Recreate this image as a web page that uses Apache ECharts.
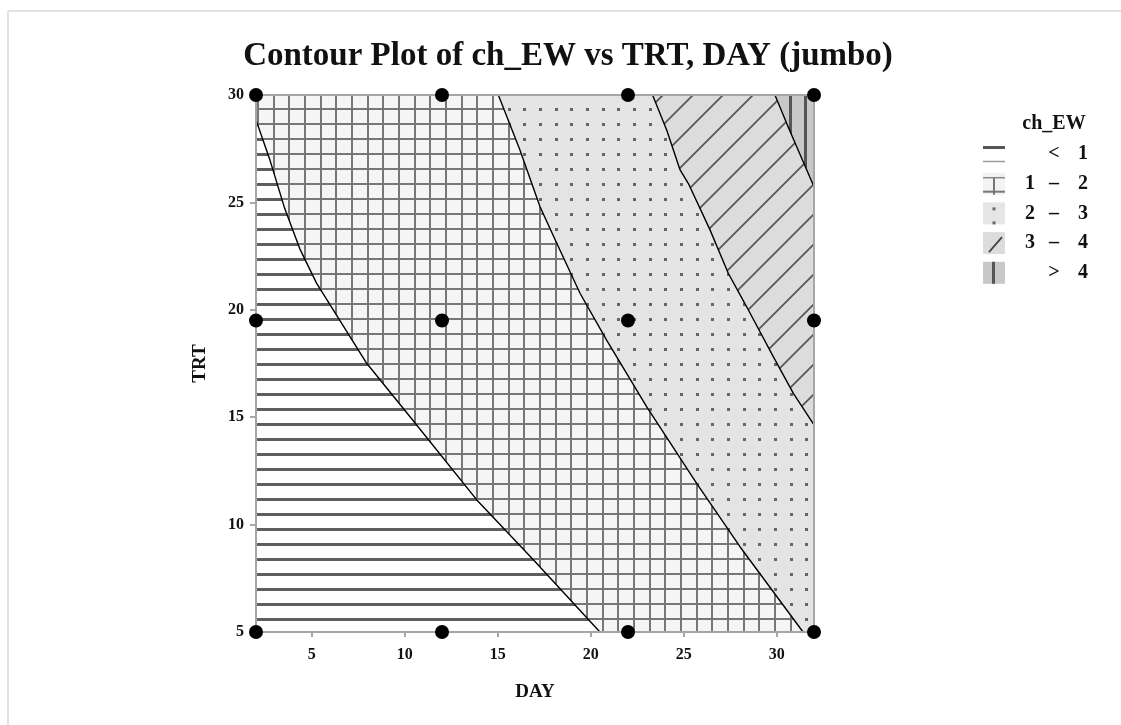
<!DOCTYPE html>
<html>
<head>
<meta charset="utf-8">
<title>Contour Plot of ch_EW vs TRT, DAY (jumbo)</title>
<script src="https://cdn.jsdelivr.net/npm/echarts@6/dist/echarts.min.js"></script>
<style>
  html, body { margin: 0; padding: 0; background: #ffffff; }
  #chart { width: 1121px; height: 725px; }
</style>
</head>
<body>
<div id="chart"></div>
<script>
// Contour boundaries of ch_EW over the (DAY, TRT) plane, traced edge to edge as [DAY, TRT]
const contour1 = [[2, 28.84], [2.75, 26.97], [3.55, 24.70], [4.35, 22.85], [5.26, 21.23], [6.38, 19.68], [7.95, 17.51], [10.28, 15.02], [13.87, 11.15], [16.91, 8.36], [20.49, 5]];
const contour2 = [[15.03, 30], [16.19, 27.44], [17.27, 24.80], [18.17, 23.10], [19.42, 20.77], [20.85, 18.59], [23.0, 15.49], [25.69, 11.92], [28.02, 8.97], [31.41, 5]];
const contour3 = [[23.32, 30], [24.08, 28.37], [24.80, 26.51], [25.24, 25.89], [26.41, 23.72], [27.39, 21.70], [28.38, 20.14], [29.81, 17.82], [30.89, 16.11], [32, 14.64]];
const contour4 = [[29.90, 30], [30.53, 28.68], [31.07, 27.59], [32, 25.73]];

// ch_EW level boundaries (legend bands)
const contourLevels = [1, 2, 3, 4];

// Design points (DAY, TRT)
const designPoints = [
  [2, 5], [12, 5], [22, 5], [32, 5],
  [2, 19.5], [12, 19.5], [22, 19.5], [32, 19.5],
  [2, 30], [12, 30], [22, 30], [32, 30]
];

// Axis ranges and tick labels
const dayRange = [2, 32];
const trtRange = [5, 30];
const dayTicks = [5, 10, 15, 20, 25, 30];
const trtTicks = [5, 10, 15, 20, 25, 30];

const SERIF = '"Liberation Serif", "Times New Roman", "DejaVu Serif", serif';

// ---- fill patterns for each band ----
function makeTile(w, h, bg, draw) {
  const c = document.createElement('canvas');
  c.width = w; c.height = h;
  const g = c.getContext('2d');
  if (bg) { g.fillStyle = bg; g.fillRect(0, 0, w, h); }
  draw(g);
  return c;
}
const cellX = [0, 16, 31];   // three cells per 47px tile
const cellY = [0, 15, 30];   // three cells per 45px tile

const tileHoriz = makeTile(47, 45, '#ffffff', g => {
  g.fillStyle = '#5e5e5e';
  cellY.forEach(y => g.fillRect(0, y, 47, 3));
});
const tileGrid = makeTile(47, 45, '#f5f5f5', g => {
  g.fillStyle = '#777777';
  cellY.forEach(y => g.fillRect(0, y, 47, 2));
  cellX.forEach(x => g.fillRect(x, 0, 2, 45));
});
const tileDots = makeTile(47, 45, '#e4e4e4', g => {
  g.fillStyle = '#666666';
  cellX.forEach(x => cellY.forEach(y => g.fillRect(x, y, 3, 3)));
});
const tileDiag = makeTile(30, 30, '#dcdcdc', g => {
  g.strokeStyle = '#555555';
  g.lineWidth = 1.7;
  g.beginPath();
  g.moveTo(-2, 32); g.lineTo(32, -2);
  g.moveTo(-2, 2); g.lineTo(2, -2);
  g.moveTo(28, 32); g.lineTo(32, 28);
  g.stroke();
});
const tileVert = makeTile(47, 45, '#c8c8c8', g => {
  g.fillStyle = '#555555';
  cellX.forEach(x => g.fillRect(x, 0, 3, 45));
});

const bandFills = [
  { image: tileHoriz, repeat: 'repeat', x: 257, y: 93 },
  { image: tileGrid, repeat: 'repeat', x: 257, y: 93 },
  { image: tileDots, repeat: 'repeat', x: 257, y: 93 },
  { image: tileDiag, repeat: 'repeat', x: 245, y: 93 },
  { image: tileVert, repeat: 'repeat', x: 256, y: 93 }
];

// ---- band polygons assembled from the contour traces and the plot edges ----
const rev = a => a.slice().reverse();
const [x0, x1] = dayRange;
const [y0, y1] = trtRange;
const bandPolygons = [
  contour1.concat([[x0, y0]]),                               // < 1
  [[x0, y1]].concat(contour2, rev(contour1)),                // 1 - 2
  contour3.concat([[x1, y0]], rev(contour2)),                // 2 - 3
  contour4.concat(rev(contour3)),                            // 3 - 4
  rev(contour4).concat([[x1, y1]])                           // > 4
];

// ---- legend ----
const legendRows = [
  { lo: '', mid: '<', hi: String(contourLevels[0]) },
  { lo: String(contourLevels[0]), mid: '\u2013', hi: String(contourLevels[1]) },
  { lo: String(contourLevels[1]), mid: '\u2013', hi: String(contourLevels[2]) },
  { lo: String(contourLevels[2]), mid: '\u2013', hi: String(contourLevels[3]) },
  { lo: '', mid: '>', hi: String(contourLevels[3]) }
];

const legendFont = 'bold 20px ' + SERIF;
const legendEls = [];
legendEls.push({
  type: 'text', x: 1054, y: 124,
  style: { text: 'ch_EW', font: legendFont, fill: '#111', align: 'center', verticalAlign: 'middle' }
});
legendRows.forEach((r, i) => {
  const cy = 154 + 29.7 * i;
  const top = cy - 11;
  ['lo', 'mid', 'hi'].forEach((k, j) => {
    if (!r[k]) return;
    legendEls.push({
      type: 'text', x: [1030, 1054, 1083][j], y: cy,
      style: { text: r[k], font: legendFont, fill: '#111', align: 'center', verticalAlign: 'middle' }
    });
  });
  // swatch
  const sx = 983, sw = 22;
  if (i === 0) {
    legendEls.push({ type: 'line', shape: { x1: sx, y1: top + 4.5, x2: sx + sw, y2: top + 4.5 }, style: { stroke: '#555', lineWidth: 3 } });
    legendEls.push({ type: 'line', shape: { x1: sx, y1: top + 18.5, x2: sx + sw, y2: top + 18.5 }, style: { stroke: '#9a9a9a', lineWidth: 1.5 } });
  } else if (i === 1) {
    legendEls.push({ type: 'rect', shape: { x: sx, y: top, width: sw, height: sw }, style: { fill: '#f3f3f3' } });
    legendEls.push({ type: 'line', shape: { x1: sx, y1: top + 5, x2: sx + sw, y2: top + 5 }, style: { stroke: '#8a8a8a', lineWidth: 1.5 } });
    legendEls.push({ type: 'line', shape: { x1: sx + 11, y1: top + 5, x2: sx + 11, y2: top + sw }, style: { stroke: '#777', lineWidth: 2 } });
    legendEls.push({ type: 'line', shape: { x1: sx, y1: top + 19, x2: sx + sw, y2: top + 19 }, style: { stroke: '#777', lineWidth: 2 } });
  } else if (i === 2) {
    legendEls.push({ type: 'rect', shape: { x: sx, y: top, width: sw, height: sw }, style: { fill: '#e6e6e6' } });
    legendEls.push({ type: 'rect', shape: { x: sx + 9.5, y: top + 5, width: 3, height: 3 }, style: { fill: '#6a6a6a' } });
    legendEls.push({ type: 'rect', shape: { x: sx + 9.5, y: top + 19, width: 3, height: 3 }, style: { fill: '#6a6a6a' } });
  } else if (i === 3) {
    legendEls.push({ type: 'rect', shape: { x: sx, y: top, width: sw, height: sw }, style: { fill: '#dcdcdc' } });
    legendEls.push({ type: 'line', shape: { x1: sx + 6, y1: top + 20, x2: sx + 19, y2: top + 5 }, style: { stroke: '#444', lineWidth: 1.8 } });
  } else {
    legendEls.push({ type: 'rect', shape: { x: sx, y: top, width: sw, height: sw }, style: { fill: '#c8c8c8' } });
    legendEls.push({ type: 'line', shape: { x1: sx + 10.5, y1: top, x2: sx + 10.5, y2: top + sw }, style: { stroke: '#555', lineWidth: 3 } });
  }
});

const chart = echarts.init(document.getElementById('chart'), null, { renderer: 'canvas' });

const axisLabelStyle = { fontFamily: SERIF, fontWeight: 'bold', fontSize: 16, color: '#111' };
const axisNameStyle = { fontFamily: SERIF, fontWeight: 'bold', fontSize: 19, color: '#111' };

const contourSeries = [contour1, contour2, contour3, contour4].map((c, i) => ({
  name: 'contour ' + contourLevels[i],
  type: 'line',
  data: c,
  symbol: 'none',
  lineStyle: { color: '#000', width: 1.4 },
  z: 3,
  silent: true,
  animation: false
}));

chart.setOption({
  animation: false,
  backgroundColor: '#ffffff',
  grid: {
    left: 256, right: 307, top: 95, bottom: 93,
    show: true, borderColor: '#a6a6a6', borderWidth: 2,
    backgroundColor: 'transparent', z: 4
  },
  xAxis: {
    type: 'value', min: dayRange[0], max: dayRange[1],
    name: 'DAY', nameLocation: 'middle', nameGap: 51, nameTextStyle: axisNameStyle,
    axisLine: { show: false },
    axisTick: { show: true, customValues: dayTicks, length: 5, lineStyle: { color: '#8a8a8a', width: 1.5 } },
    axisLabel: { customValues: dayTicks, margin: 15, ...axisLabelStyle },
    splitLine: { show: false }
  },
  yAxis: {
    type: 'value', min: trtRange[0], max: trtRange[1],
    name: 'TRT', nameLocation: 'middle', nameGap: 46, nameTextStyle: axisNameStyle,
    axisLine: { show: false },
    axisTick: { show: true, customValues: trtTicks, length: 6, lineStyle: { color: '#8a8a8a', width: 1.5 } },
    axisLabel: { customValues: trtTicks, margin: 12, ...axisLabelStyle },
    splitLine: { show: false }
  },
  graphic: [
    { type: 'line', shape: { x1: 8, y1: 11, x2: 1121, y2: 11 }, style: { stroke: '#e2e2e2', lineWidth: 2 } },
    { type: 'line', shape: { x1: 8, y1: 11, x2: 8, y2: 725 }, style: { stroke: '#e2e2e2', lineWidth: 2 } },
    {
      type: 'text', x: 568, y: 56,
      style: {
        text: 'Contour Plot of ch_EW vs TRT, DAY (jumbo)',
        font: 'bold 33px ' + SERIF, fill: '#111', align: 'center', verticalAlign: 'middle'
      }
    }
  ].concat(legendEls),
  series: [
    {
      name: 'bands',
      type: 'custom',
      z: 1,
      silent: true,
      data: bandPolygons.map(p => p[0]),
      renderItem: function (params, api) {
        const poly = bandPolygons[params.dataIndex];
        return {
          type: 'polygon',
          shape: { points: poly.map(p => api.coord(p)) },
          style: { fill: bandFills[params.dataIndex], stroke: null }
        };
      }
    }
  ].concat(contourSeries, [
    {
      name: 'design points',
      type: 'scatter',
      data: designPoints,
      symbol: 'circle',
      symbolSize: 14,
      itemStyle: { color: '#000', opacity: 1 },
      clip: false,
      z: 10,
      silent: true
    }
  ])
});
</script>
</body>
</html>
